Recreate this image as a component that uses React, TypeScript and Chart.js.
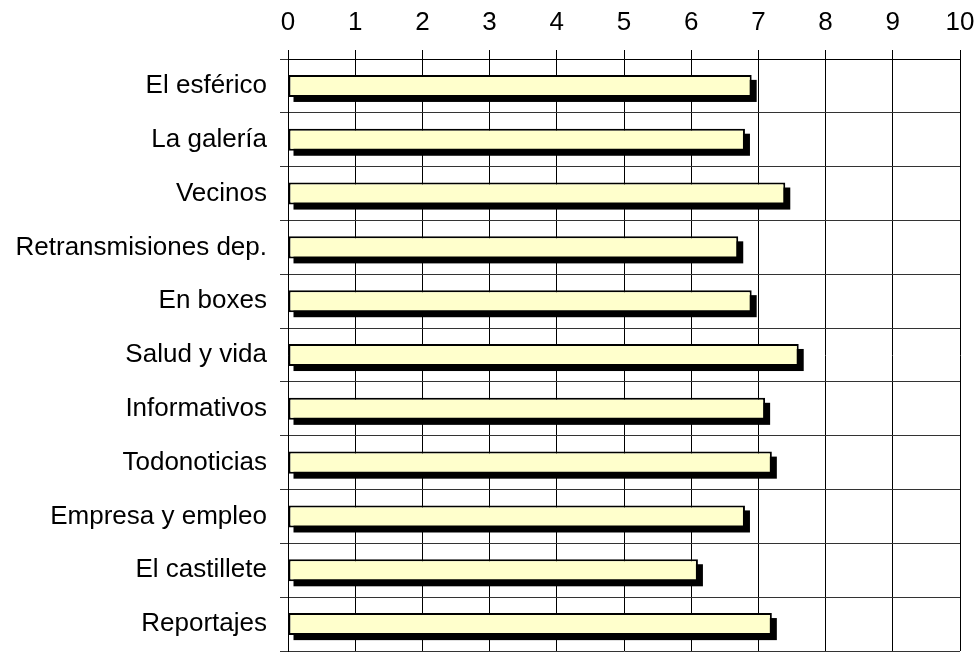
import React, { useEffect, useRef } from "react";
import { Chart, registerables } from "chart.js";

Chart.register(...registerables);

const categories = [
  "El esférico",
  "La galería",
  "Vecinos",
  "Retransmisiones dep.",
  "En boxes",
  "Salud y vida",
  "Informativos",
  "Todonoticias",
  "Empresa y empleo",
  "El castillete",
  "Reportajes",
];
const ratings = [6.9, 6.8, 7.4, 6.7, 6.9, 7.6, 7.1, 7.2, 6.8, 6.1, 7.2];
const axisMin = 0;
const axisMax = 10;
const axisStep = 1;

const FONT = "'Liberation Sans', Arial, Helvetica, sans-serif";
const SHADOW = 5;

const shadowPlugin = {
  id: "barShadow",
  beforeDatasetsDraw(chart: any) {
    const ctx = chart.ctx;
    const meta = chart.getDatasetMeta(0);
    ctx.save();
    ctx.fillStyle = "#000000";
    meta.data.forEach((el: any) => {
      const p = el.getProps(["x", "y", "base", "height"], true);
      const left = Math.min(p.base, p.x);
      const w = Math.abs(p.x - p.base);
      ctx.fillRect(left + SHADOW, p.y - p.height / 2 + SHADOW, w, p.height);
    });
    ctx.restore();
  },
};

function zeroPadding(scale: any) {
  scale.paddingLeft = 0;
  scale.paddingRight = 0;
  scale.paddingTop = 0;
  scale.paddingBottom = 0;
}

export default function App() {
  const ref = useRef<HTMLCanvasElement | null>(null);
  useEffect(() => {
    if (!ref.current) return;
    const chart = new Chart(ref.current, {
      type: "bar",
      data: {
        labels: categories,
        datasets: [
          {
            data: ratings,
            backgroundColor: "#FFFFCC",
            borderColor: "#000000",
            borderWidth: 2,
            borderSkipped: false,
            categoryPercentage: 1,
            barPercentage: 0.41,
          },
        ],
      },
      options: {
        indexAxis: "y",
        animation: false,
        responsive: true,
        maintainAspectRatio: false,
        devicePixelRatio: 1,
        layout: { padding: { left: 0, top: 0, right: 20, bottom: 2 } },
        plugins: {
          legend: { display: false },
          tooltip: { enabled: false },
        },
        scales: {
          x: {
            position: "top",
            min: axisMin,
            max: axisMax,
            ticks: {
              stepSize: axisStep,
              color: "#000",
              font: { family: FONT, size: 26 },
              padding: 12,
            },
            grid: {
              color: "#000",
              lineWidth: 1,
              tickLength: 9,
              drawTicks: true,
            },
            border: { display: true, color: "#000", width: 1 },
            afterFit(scale: any) {
              scale.height = 59;
              zeroPadding(scale);
            },
          },
          y: {
            type: "category",
            ticks: {
              color: "#000",
              font: { family: FONT, size: 26 },
              padding: 13,
            },
            grid: {
              color: "#333",
              lineWidth: 1,
              offset: true,
              tickLength: 8,
              drawTicks: true,
            },
            border: { display: true, color: "#000", width: 1 },
            afterFit(scale: any) {
              scale.width = 288;
              zeroPadding(scale);
            },
          },
        },
      },
      plugins: [shadowPlugin],
    });
    return () => chart.destroy();
  }, []);

  return (
    <div style={{ position: "absolute", left: 0, top: 0, width: 980, height: 653, background: "#fff" }}>
      <canvas ref={ref} />
    </div>
  );
}
